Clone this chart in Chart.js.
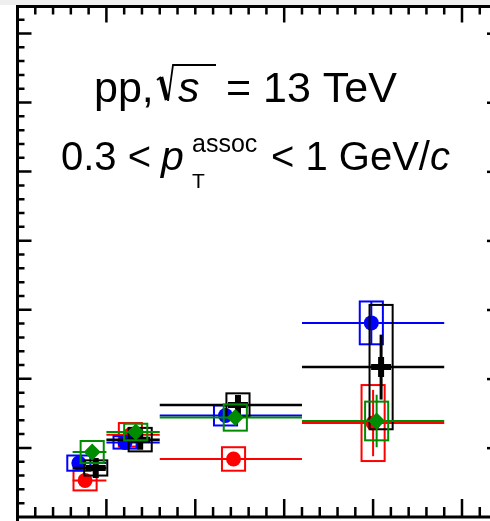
<!DOCTYPE html>
<html>
<head>
<meta charset="utf-8">
<script src="https://cdn.jsdelivr.net/npm/chart.js@4.4.1/dist/chart.umd.min.js"></script>
<style>
  html, body { margin: 0; padding: 0; background: #fff; overflow: hidden; }
  canvas { display: block; }
</style>
</head>
<body>
<canvas id="corr" width="490" height="521" style="width:490px;height:521px"></canvas>
<script>
// bins (x axis units, one major tick = 1)
const binLow = [0.62, 1.0, 1.6, 3.2];
const binHigh = [1.0, 1.6, 3.2, 4.8];

// red series
const redX = [0.76, 1.27, 2.43, 4.0];
const redY = [0.53, 1.19, 0.84, 1.36];
const redStat = [0.05, 0.05, 0.05, 0.48];
const redSys = [0.145, 0.17, 0.17, 0.55];

// blue series
const blueX = [0.69, 1.21, 2.34, 3.98];
const blueY = [0.78, 1.08, 1.47, 2.81];
const blueStat = [0.05, 0.05, 0.05, 0.31];
const blueSys = [0.11, 0.09, 0.145, 0.31];

// green series
const greenX = [0.84, 1.33, 2.45, 4.04];
const greenY = [0.94, 1.23, 1.44, 1.39];
const greenStat = [0.06, 0.06, 0.06, 0.38];
const greenSys = [0.16, 0.12, 0.19, 0.28];

// black series
const blackX = [0.88, 1.38, 2.48, 4.09];
const blackY = [0.71, 1.12, 1.62, 2.17];
const blackStat = [0.13, 0.12, 0.14, 0.47];
const blackSys = [0.11, 0.17, 0.17, 0.9];

// axis ranges
const xMin = 0, xMax = 5.315;
const yMin = 0, yMax = 7.39;

const boxHalf = 0.13; // half width of the systematic boxes

function pts(xs, ys) {
  return xs.map((x, i) => ({ x: x, y: ys[i] }));
}

const rootLook = {
  id: "rootLook",
  beforeDraw(chart) {
    const c = chart.ctx;
    c.save();
    c.fillStyle = "#fff";
    c.fillRect(0, 0, chart.width, chart.height);
    c.fillStyle = "#efefef";
    c.fillRect(0, 0, chart.width, 5);
    c.restore();
  },
  // bin width line, stat bar and syst box, drawn just under each series' markers
  beforeDatasetDraw(chart, args) {
    const ds = chart.data.datasets[args.index];
    const xs = chart.scales.x, ys = chart.scales.y;
    const c = chart.ctx;
    c.save();
    c.strokeStyle = ds.borderColor;
    ds.data.forEach((p, i) => {
      const px = xs.getPixelForValue(p.x);
      const py = ys.getPixelForValue(p.y);
      c.lineWidth = ds.errWidth;
      c.beginPath();
      c.moveTo(xs.getPixelForValue(binLow[i]), py);
      c.lineTo(xs.getPixelForValue(binHigh[i]), py);
      c.stroke();

      c.lineWidth = ds.statWidth;
      c.beginPath();
      c.moveTo(px, ys.getPixelForValue(p.y - ds.stat[i]));
      c.lineTo(px, ys.getPixelForValue(p.y + ds.stat[i]));
      c.stroke();

      c.lineWidth = 2;
      const x0 = xs.getPixelForValue(p.x - boxHalf);
      const x1 = xs.getPixelForValue(p.x + boxHalf);
      const y0 = ys.getPixelForValue(p.y + ds.sys[i]);
      const y1 = ys.getPixelForValue(p.y - ds.sys[i]);
      c.strokeRect(x0, y0, x1 - x0, y1 - y0);
    });
    c.restore();
  },
  afterDraw(chart) {
    const c = chart.ctx;
    const a = chart.chartArea;
    const xs = chart.scales.x, ys = chart.scales.y;
    c.save();
    c.strokeStyle = "#000";
    c.fillStyle = "#000";

    // frame (left, bottom, top)
    c.lineWidth = 3;
    c.beginPath();
    c.moveTo(a.left, 5);
    c.lineTo(a.left, chart.height);
    c.moveTo(a.left - 1.5, a.bottom);
    c.lineTo(chart.width, a.bottom);
    c.moveTo(a.left - 1.5, a.top);
    c.lineTo(chart.width, a.top);
    c.stroke();

    // ticks
    c.lineWidth = 2.5;
    c.beginPath();
    for (let k = 1; k < 37; k++) {
      const v = k * 0.2;
      if (v > yMax) break;
      const y = ys.getPixelForValue(v);
      const len = k % 5 === 0 ? 14 : 7;
      c.moveTo(a.left, y);
      c.lineTo(a.left + len, y);
    }
    for (let k = 1; k < 27; k++) {
      const v = k * 0.2;
      if (v > xMax) break;
      const x = xs.getPixelForValue(v);
      const major = k % 5 === 0;
      c.moveTo(x, a.bottom);
      c.lineTo(x, a.bottom - (major ? 18 : 10));
      const topMajor = major && (k / 5) % 2 === 1;
      c.moveTo(x, a.top);
      c.lineTo(x, a.top + (topMajor ? 16 : 8));
    }
    c.stroke();

    // neighbouring panel's tick stubs on the right edge
    for (let k = 1; k <= 7; k++) {
      const y = ys.getPixelForValue(k);
      c.fillRect(chart.width - 3, y - 1, 3, 2.5);
    }

    // labels
    c.textBaseline = "alphabetic";
    c.font = '43px "Liberation Sans", Arial, sans-serif';
    c.fillText("pp,", 94, 102);
    // square root sign
    c.lineWidth = 1.8;
    c.beginPath();
    c.moveTo(157, 80);
    c.lineTo(161, 77);
    c.stroke();
    c.lineWidth = 4.5;
    c.beginPath();
    c.moveTo(161, 77);
    c.lineTo(167, 100);
    c.stroke();
    c.lineWidth = 1.8;
    c.beginPath();
    c.moveTo(168, 101);
    c.lineTo(173, 65);
    c.lineTo(216, 65);
    c.stroke();
    c.font = 'italic 43px "Liberation Sans", Arial, sans-serif';
    c.fillText("s", 178, 102);
    c.font = '43px "Liberation Sans", Arial, sans-serif';
    c.fillText("= 13 TeV", 226, 102);

    c.font = '40px "Liberation Sans", Arial, sans-serif';
    c.fillText("0.3 <", 61, 170);
    c.font = 'italic 41px "Liberation Sans", Arial, sans-serif';
    c.fillText("p", 161, 170);
    c.font = '25px "Liberation Sans", Arial, sans-serif';
    c.fillText("assoc", 192, 152);
    c.font = '21px "Liberation Sans", Arial, sans-serif';
    c.fillText("T", 192, 188);
    c.font = '40px "Liberation Sans", Arial, sans-serif';
    c.fillText("< 1 GeV/", 271, 170);
    const w = c.measureText("< 1 GeV/").width;
    c.font = 'italic 40px "Liberation Sans", Arial, sans-serif';
    c.fillText("c", 271 + w, 170);
    c.restore();
  }
};

const corrChart = new Chart(document.getElementById("corr").getContext("2d"), {
  type: "scatter",
  data: {
    datasets: [
      {
        label: "red",
        data: pts(redX, redY),
        stat: redStat,
        sys: redSys,
        borderColor: "#ff0000",
        backgroundColor: "#ff0000",
        pointStyle: "circle",
        pointRadius: 7.5,
        pointBorderWidth: 0,
        errWidth: 2,
        statWidth: 2,
        order: 4,
      },
      {
        label: "blue",
        data: pts(blueX, blueY),
        stat: blueStat,
        sys: blueSys,
        borderColor: "#0000ff",
        backgroundColor: "#0000ff",
        pointStyle: "circle",
        pointRadius: 7.5,
        pointBorderWidth: 0,
        errWidth: 2,
        statWidth: 2,
        order: 3,
      },
      {
        label: "black",
        data: pts(blackX, blackY),
        stat: blackStat,
        sys: blackSys,
        borderColor: "#000000",
        backgroundColor: "#000000",
        pointStyle: "cross",
        pointRadius: 10,
        pointBorderWidth: 6,
        errWidth: 2.5,
        statWidth: 3,
        order: 2,
      },
      {
        label: "green",
        data: pts(greenX, greenY),
        stat: greenStat,
        sys: greenSys,
        borderColor: "#008c00",
        backgroundColor: "#008c00",
        pointStyle: "rectRot",
        pointRadius: 8.5,
        pointBorderWidth: 0,
        errWidth: 2,
        statWidth: 2,
        order: 1,
      },
    ],
  },
  options: {
    responsive: false,
    animation: false,
    devicePixelRatio: 1,
    layout: { autoPadding: false, padding: { left: 17.5, top: 6.5, right: 0, bottom: 4 } },
    plugins: {
      legend: { display: false },
      tooltip: { enabled: false },
    },
    scales: {
      x: { type: "linear", min: xMin, max: xMax, display: false },
      y: { type: "linear", min: yMin, max: yMax, display: false },
    },
  },
  plugins: [rootLook],
});
</script>
</body>
</html>
